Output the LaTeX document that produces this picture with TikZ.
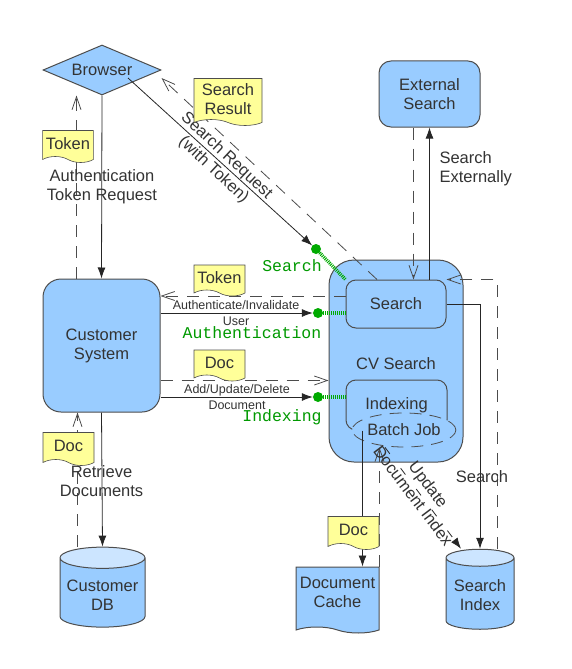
\documentclass[tikz,border=0pt]{standalone}
\usepackage{fontspec}
\setmainfont{Liberation Sans}
\setmonofont{Liberation Mono}
\usetikzlibrary{shapes.geometric,shapes.symbols,arrows.meta}
\definecolor{boxblue}{HTML}{99CCFF}
\definecolor{topblue}{HTML}{CCE5FF}
\definecolor{noteyellow}{HTML}{FFFF99}
\definecolor{edge}{HTML}{4D4D4D}
\definecolor{ink}{HTML}{333333}
\definecolor{portgreen}{HTML}{009900}
\definecolor{plugreen}{HTML}{00AA00}
\tikzset{
	component/.style={draw=edge,line width=1pt,fill=boxblue,rounded corners=12pt,align=center,text=ink},%
	client/.style={diamond,draw=edge,line width=1pt,fill=boxblue,inner sep=0pt,aspect=2.36,minimum width=118pt,minimum height=50pt,text=ink},%
	store/.style={cylinder,shape border rotate=90,aspect=0.25,draw=edge,line width=1pt,cylinder uses custom fill,cylinder body fill=boxblue,cylinder end fill=topblue,minimum height=80pt,inner ysep=0pt},%
	paper/.style={tape,tape bend top=none,tape bend bottom=out and in,tape bend height=6pt,draw=edge,line width=0.6pt,fill=noteyellow,align=center,text=ink},%
	call/.style={draw=black!85,line width=0.8pt,-{Latex[length=11pt,width=8pt]}},%
	answer/.style={draw=black!70,line width=0.8pt,dash pattern=on 12pt off 9pt,-{Straight Barb[length=13pt,width=9pt]}},%
	socket/.style={circle,fill=plugreen,inner sep=0pt,minimum size=10pt},%
	plug/.style={draw=plugreen,line width=3.5pt,dash pattern=on 1pt off 1pt},%
	port/.style={text=portgreen,font=\ttfamily\fontsize{16.5}{18}\selectfont},%
	note/.style={text=ink,align=center},%
	tiny/.style={text=ink,align=center,font=\fontsize{12.5}{15.5}\selectfont},%
}

\begin{document}
\begin{tikzpicture}[x=1pt,y=-1pt,font=\fontsize{16.5}{19}\selectfont]
	\useasboundingbox (0,0) rectangle (571,669);
	\node[client] (browser) at (102,70) {Browser};
	\node[component,minimum width=101pt,minimum height=66pt] (ext) at (429.5,94) {External\\Search};
	\node[component,minimum width=117pt,minimum height=133pt,rounded corners=18pt] (cust) at (101.5,345.5) {Customer\\System};
	\node[component,minimum width=134pt,minimum height=202pt,rounded corners=25pt] (cv) at (396,361) {};
	\node[note] (cvlabel) at (396,364) {CV Search};
	\node[component,minimum width=100pt,minimum height=48pt,rounded corners=10pt] (search) at (396,304) {Search};
	\node[component,minimum width=101pt,minimum height=50pt,rounded corners=10pt] (idx) at (396.5,405) {Indexing};
	\node[ellipse,draw=edge,line width=0.8pt,dash pattern=on 12pt off 8pt,fill=boxblue,minimum width=85pt,minimum height=34pt,inner sep=0pt,text=ink] (batch) at (404,430) {Batch Job};
	\node[store,inner xsep=42.5pt] (cdb) at (102.5,598) {};
	\node[note] (cdblabel) at ([yshift=3pt]cdb.center) {Customer\\DB};
	\node[store,inner xsep=34pt] (sidx) at (480,598) {};
	\node[note] (sidxlabel) at ([yshift=3pt]sidx.center) {Search\\Index};
	\node[paper,fill=boxblue,draw=edge,line width=1pt,minimum width=83pt,minimum height=66pt] (cache) at (337.5,597) {};
	\node[note] (cachelabel) at ([yshift=5pt]cache.center) {Document\\Cache};
	\node[socket] (searchdot) at (316,249) {};
	\node[socket] (authdot) at (318,313) {};
	\node[socket] (idxdot) at (318,397) {};
	\draw[plug] (searchdot) -- (search.north west);
	\draw[plug] (authdot) -- (authdot -| search.west);
	\draw[plug] (idxdot) -- (idxdot -| idx.west);
	\node[port] (searchport) at (292,266) {Search};
	\node[port] (authport) at (252,333) {Authentication};
	\node[port] (idxport) at (282,417) {Indexing};
	\coordinate (query) at (128,78);
	\draw[call] (browser.south) -- (cust.north);
	\draw[answer] ([xshift=-25pt]cust.north) -- ([xshift=-25pt]cust.north |- browser.south);
	\draw[call] (query) -- (searchdot);
	\draw[answer] ([xshift=-19pt]search.north) -- ([yshift=-8pt]browser.east);
	\draw[answer] ([yshift=8pt]search.west) -- ([yshift=8pt]search.west -| cust.east);
	\draw[call] (authdot -| cust.east) -- (authdot);
	\draw[answer] ([yshift=-35pt]cust.east) -- ([yshift=-35pt]cust.east -| cv.west);
	\draw[call] (idxdot -| cust.east) -- (idxdot);
	\draw[call] (cust.south) -- (cdb.north);
	\draw[answer] ([xshift=-25pt]cdb.north) -- ([xshift=-25pt]cdb.north |- cust.south);
	\draw[call] (ext.south |- search.north) -- (ext.south);
	\draw[answer] ([xshift=-16pt]ext.south) -- ([xshift=-16pt]ext.south |- search.north);
	\draw[call] (search.east) -| (sidx.north);
	\draw[answer] ([xshift=17pt]sidx.north) |- (search.north east);
	\draw[call] ([xshift=-34pt]idx.south) -- ([xshift=-34pt]idx.south |- cache.north);
	\draw[answer] (cache.north east) -- (cache.north east |- batch.south);
	\draw[call,dash pattern=on 8pt off 18pt] ([xshift=-19pt]batch.south) -- ([xshift=-19pt]sidx.north);
	\node[note] (authreq) at (102,187) {Authentication\\Token Request};
	\node[note,rotate=-43] (searchreq) at (220,163) {Search Request\\(with Token)};
	\node[tiny] (authlabel) at (236,313) {Authenticate/Invalidate\\User};
	\node[tiny] (addlabel) at (237,397) {Add/Update/Delete\\Document};
	\node[note] (retrieve) at (101.5,481) {Retrieve\\Documents};
	\node[note,align=left,anchor=west] (external) at (436,169) {Search\\Externally};
	\node[note] (lookup) at (482,477) {Search};
	\node[note,rotate=-53] (update) at (421,490) {Update\\Document Index};
	\node[paper,minimum width=50pt,minimum height=32pt] (tokenup) at (68,143.5) {Token};
	\node[paper,minimum width=68pt,minimum height=47pt] (result) at (228,99) {Search\\Result};
	\node[paper,minimum width=51pt,minimum height=31pt] (tokenback) at (219.5,277.5) {Token};
	\node[paper,minimum width=51pt,minimum height=31pt] (docin) at (219.5,362.5) {Doc};
	\node[paper,minimum width=51pt,minimum height=33pt] (docout) at (68.5,446) {Doc};
	\node[paper,minimum width=51pt,minimum height=33pt] (doccache) at (353.5,530) {Doc};
\end{tikzpicture}
\end{document}
